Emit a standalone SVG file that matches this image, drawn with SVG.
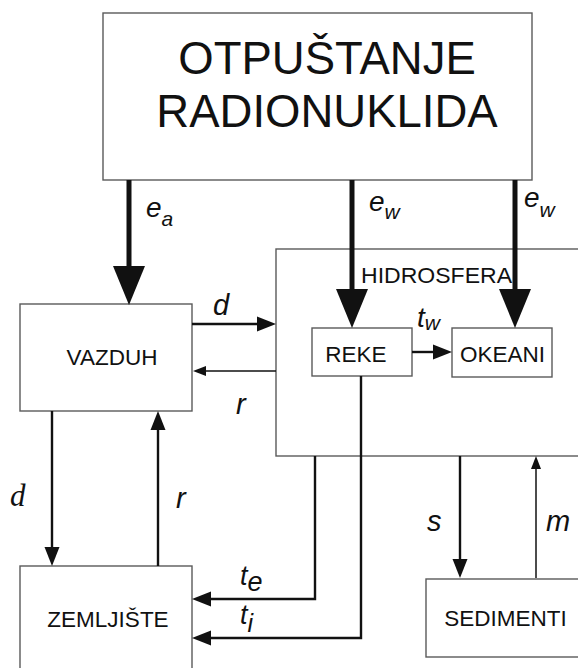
<svg xmlns="http://www.w3.org/2000/svg" width="578" height="668" viewBox="0 0 578 668">
<style>
.box{fill:#fff;stroke:#5a5a5a;stroke-width:1.4}
.lbl{font-family:"Liberation Sans",Arial,sans-serif;font-size:22.5px;fill:#111;text-anchor:middle}
.ttl{font-family:"Liberation Sans",Arial,sans-serif;font-size:45.5px;fill:#111;text-anchor:middle}
.it{font-family:"Liberation Sans",Arial,sans-serif;font-style:italic;fill:#111}
.c{fill:none;stroke:#111}
.thick{stroke-width:5}
.med{stroke-width:2.4}
.thin{stroke-width:1.5}
</style>
<defs>
<marker id="big" viewBox="0 -16 38 32" markerUnits="userSpaceOnUse" markerWidth="38" markerHeight="32" refX="0" refY="0" orient="auto" overflow="visible"><path d="M-1,-16 L38,0 L-1,16 Z" fill="#111"/></marker>
<marker id="mid" viewBox="0 -8 18 16" markerUnits="userSpaceOnUse" markerWidth="18" markerHeight="16" refX="0" refY="0" orient="auto" overflow="visible"><path d="M-1,-7.5 L18,0 L-1,7.5 Z" fill="#111"/></marker>
<marker id="sml" viewBox="0 -5 12 10" markerUnits="userSpaceOnUse" markerWidth="12" markerHeight="10" refX="0" refY="0" orient="auto" overflow="visible"><path d="M-1,-5 L12,0 L-1,5 Z" fill="#111"/></marker>
</defs>
<rect width="578" height="668" fill="#fff"/>
<g id="otpustanje">
<rect class="box" x="103" y="13" width="429" height="167"/>
<text class="ttl" x="327" y="74">OTPUŠTANJE</text>
<text class="ttl" x="327" y="127">RADIONUKLIDA</text>
</g>
<g id="hidrosfera">
<rect class="box" x="276" y="249" width="320" height="207"/>
<text class="lbl" x="436.5" y="283" textLength="151" lengthAdjust="spacingAndGlyphs">HIDROSFERA</text>
</g>
<g id="vazduh">
<rect class="box" x="20" y="304" width="172" height="107"/>
<text class="lbl" x="112" y="365">VAZDUH</text>
</g>
<g id="reke">
<rect class="box" x="312" y="328" width="100" height="48"/>
<text class="lbl" x="356" y="362">REKE</text>
</g>
<g id="okeani">
<rect class="box" x="452" y="328" width="100" height="49"/>
<text class="lbl" x="502.5" y="362">OKEANI</text>
</g>
<g id="zemljiste">
<rect class="box" x="20" y="566" width="172" height="120"/>
<text class="lbl" x="108" y="627">ZEMLJIŠTE</text>
</g>
<g id="sedimenti">
<rect class="box" x="426" y="579" width="170" height="78"/>
<text class="lbl" x="505.5" y="626">SEDIMENTI</text>
</g>
<g id="connectors">
<line class="c thick" x1="129" y1="180" x2="129" y2="267" marker-end="url(#big)"/>
<line class="c thick" x1="352" y1="180" x2="352" y2="290" marker-end="url(#big)"/>
<line class="c thick" x1="515" y1="180" x2="515" y2="290" marker-end="url(#big)"/>
<line class="c med" x1="192" y1="324" x2="258" y2="324" marker-end="url(#mid)"/>
<line class="c thin" x1="276" y1="371" x2="205" y2="371" marker-end="url(#sml)"/>
<line class="c med" x1="412" y1="352" x2="434" y2="352" marker-end="url(#mid)"/>
<line class="c med" x1="52" y1="411" x2="52" y2="548" marker-end="url(#mid)"/>
<line class="c med" x1="158" y1="566" x2="158" y2="429" marker-end="url(#mid)"/>
<path class="c med" d="M315,456 V599 H210" marker-end="url(#mid)"/>
<path class="c med" d="M361,376 V638 H210" marker-end="url(#mid)"/>
<line class="c med" x1="460" y1="456" x2="460" y2="560" marker-end="url(#mid)"/>
<line class="c thin" x1="536" y1="578" x2="536" y2="468" marker-end="url(#sml)"/>
<text class="it" x="146" y="217" font-size="28">e<tspan font-size="21" dy="9">a</tspan></text>
<text class="it" x="369" y="211" font-size="28">e<tspan font-size="21" dy="8">w</tspan></text>
<text class="it" x="524" y="207" font-size="28">e<tspan font-size="21" dy="10">w</tspan></text>
<text class="it" x="417" y="327" font-size="28">t<tspan font-size="21" dy="3">w</tspan></text>
<text class="it" x="213" y="315" font-size="29">d</text>
<text class="it" x="236" y="414" font-size="29">r</text>
<text x="10" y="506" font-family="'Liberation Serif','Times New Roman',serif" font-style="italic" font-size="31" fill="#111">d</text>
<text class="it" x="176" y="508" font-size="29">r</text>
<text class="it" x="427" y="531" font-size="29">s</text>
<text class="it" x="546" y="531" font-size="29">m</text>
<text class="it" x="240" y="585" font-size="27">t<tspan font-size="27" dy="6">e</tspan></text>
<text class="it" x="240" y="624" font-size="27">t<tspan font-size="25" dy="8">i</tspan></text>
</g>
</svg>
